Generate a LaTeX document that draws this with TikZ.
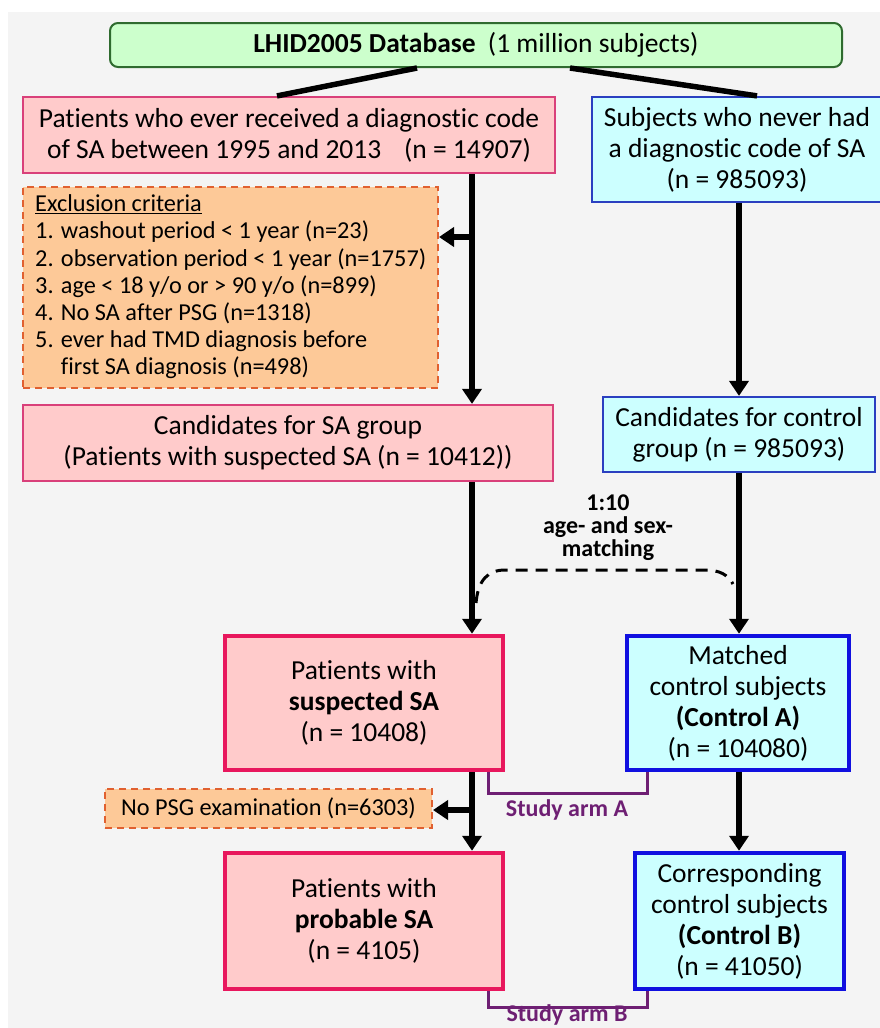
\documentclass[tikz,border=0pt]{standalone}
\usepackage{fontspec}
\setmainfont{Carlito}[Ligatures=NoCommon]
\usetikzlibrary{arrows.meta}
\definecolor{bggray}{HTML}{F4F4F4}
\definecolor{greenfill}{HTML}{CCFFCC}
\definecolor{greenline}{HTML}{2F6B2F}
\definecolor{pinkfill}{HTML}{FFCBCB}
\definecolor{pinkline}{HTML}{D9407A}
\definecolor{pinkthick}{HTML}{E8175D}
\definecolor{bluefill}{HTML}{CCFFFF}
\definecolor{blueline}{HTML}{2A3FC0}
\definecolor{bluethick}{HTML}{1010E0}
\definecolor{orfill}{HTML}{FDC998}
\definecolor{orline}{HTML}{E06030}
\definecolor{armpurple}{HTML}{6E1F73}
\newcommand{\mainsize}{\fontsize{27.5}{31}\selectfont}
\newcommand{\exsize}{\fontsize{24.3}{27.2}\selectfont}
\tikzset{
  basebox/.style={rectangle, inner sep=0pt, align=center, font=\mainsize, text=black},
  pinkbox/.style={basebox, fill=pinkfill, draw=pinkline, line width=2.2pt},
  pinkbig/.style={basebox, fill=pinkfill, draw=pinkthick, line width=4.5pt},
  bluebox/.style={basebox, fill=bluefill, draw=blueline, line width=2.2pt},
  bluebig/.style={basebox, fill=bluefill, draw=bluethick, line width=4.5pt},
  greenbox/.style={basebox, fill=greenfill, draw=greenline, line width=2pt, rounded corners=8pt},
  exbox/.style={rectangle, fill=orfill, draw=orline, line width=2pt, dash pattern=on 7pt off 5pt, font=\exsize, text=black},
  arr/.style={line width=5.5pt, -{Triangle[length=15pt,width=19pt]}},
  thickline/.style={line width=5.5pt},
  matchline/.style={line width=3pt, dash pattern=on 12pt off 8pt},
  armline/.style={draw=armpurple, line width=3pt},
  armlabel/.style={text=armpurple, font=\fontsize{24}{26}\selectfont\bfseries, inner sep=0pt}
}
\begin{document}
\begin{tikzpicture}[x=1pt,y=-1pt]
\useasboundingbox (0,0) rectangle (880,1028);
\clip (0,0) rectangle (880,1028);
\fill[white] (0,0) rectangle (880,1028);
\fill[bggray] (8,12) rectangle (880,1028);

% nodes
\node[greenbox, minimum width=732pt, minimum height=44pt] (green) at (476,45)
  {\textbf{LHID2005 Database}\hspace{0.45em}(1 million subjects)};
\node[pinkbox, minimum width=532pt, minimum height=76pt] (pink1) at (289,135)
  {Patients who ever received a diagnostic code\\of SA between 1995 and 2013\hspace{0.6em} (n = 14907)};
\node[bluebox, minimum width=290pt, minimum height=105pt] (blue1) at (737,149.5)
  {Subjects who never had\\a diagnostic code of SA\\(n = 985093)};
\node[exbox, minimum width=415pt, minimum height=201pt, inner sep=0pt] (excl) at (230.5,287.5) {};
\node[font=\exsize, align=left, anchor=west, inner sep=0pt] (excltext) at (35,287)
  {\underline{Exclusion criteria}\\
   1. washout period < 1 year (n=23)\\
   2. observation period < 1 year (n=1757)\\
   3. age < 18 y/o or > 90 y/o (n=899)\\
   4. No SA after PSG (n=1318)\\
   5. ever had TMD diagnosis before\\
   \phantom{5. }first SA diagnosis (n=498)};
\node[pinkbox, minimum width=530pt, minimum height=76pt] (cand) at (288,443)
  {Candidates for SA group\\(Patients with suspected SA (n = 10412))};
\node[bluebox, minimum width=272pt, minimum height=75pt] (candc) at (739,434.5)
  {Candidates for control\\group (n = 985093)};
\node[pinkbig, minimum width=278pt, minimum height=134pt] (susp) at (364,703)
  {Patients with\\\textbf{suspected SA}\\(n = 10408)};
\node[bluebig, minimum width=222pt, minimum height=134pt] (match) at (738,703)
  {Matched\\control subjects\\\textbf{(Control A)}\\(n = 104080)};
\node[exbox, minimum width=327pt, minimum height=39pt, inner sep=0pt] (nopsg) at (268.5,808.5)
  {No PSG examination (n=6303)};
\node[pinkbig, minimum width=278pt, minimum height=136pt] (prob) at (364,921)
  {Patients with\\\textbf{probable SA}\\(n = 4105)};
\node[bluebig, minimum width=209pt, minimum height=136pt] (ctrlb) at (739.5,921)
  {Corresponding\\control subjects\\\textbf{(Control B)}\\(n = 41050)};

% helper coordinates
\coordinate (tl) at (472,0);
\coordinate (tr) at (739,0);
\coordinate (g1) at (417,0);
\coordinate (p1) at (277,0);
\coordinate (g2) at (570,0);
\coordinate (b2) at (757,0);

% top split lines
\draw[thickline] (green.south -| g1) -- (pink1.north -| p1);
\draw[thickline] (green.south -| g2) -- (blue1.north -| b2);

% left column
\draw[arr] (pink1.south -| tl) -- (cand.north -| tl);
\coordinate (j1) at (472,237);
\draw[arr] (j1) -- (j1 -| excl.east);
\draw[arr] (cand.south -| tl) -- (susp.north -| tl);
\draw[arr] (susp.south -| tl) -- (prob.north -| tl);
\coordinate (j2) at (472,810);
\draw[arr] (j2) -- (j2 -| nopsg.east);

% right column
\draw[arr] (blue1.south -| tr) -- (candc.north -| tr);
\draw[arr] (candc.south -| tr) -- (match.north -| tr);
\draw[arr] (match.south -| tr) -- (ctrlb.north -| tr);

% matching dashed connector
\coordinate (m1) at (476,603);
\coordinate (m2) at (733,584);
\draw[matchline] (m1) .. controls (478,580) and (488,570) .. (505,570) -- (705,570)
  .. controls (720,570) and (728,575) .. (m2);
\node[font=\fontsize{24}{23}\selectfont\bfseries, align=center, inner sep=0pt] (ratio) at (608,528)
  {1:10\\age- and sex-\\matching};

% study arms
\coordinate (aL) at (488,0);
\coordinate (aR) at (647,0);
\coordinate (aA) at (0,793);
\coordinate (aB) at (0,1007);
\draw[armline] (susp.south -| aL) -- (aL |- aA) -- (aR |- aA) -- (match.south -| aR);
\node[armlabel] (armA) at (567,810) {Study arm A};
\draw[armline] (prob.south -| aL) -- (aL |- aB) -- (aR |- aB) -- (ctrlb.south -| aR);
\node[armlabel] (armB) at (567,1015) {Study arm B};
\end{tikzpicture}
\end{document}
